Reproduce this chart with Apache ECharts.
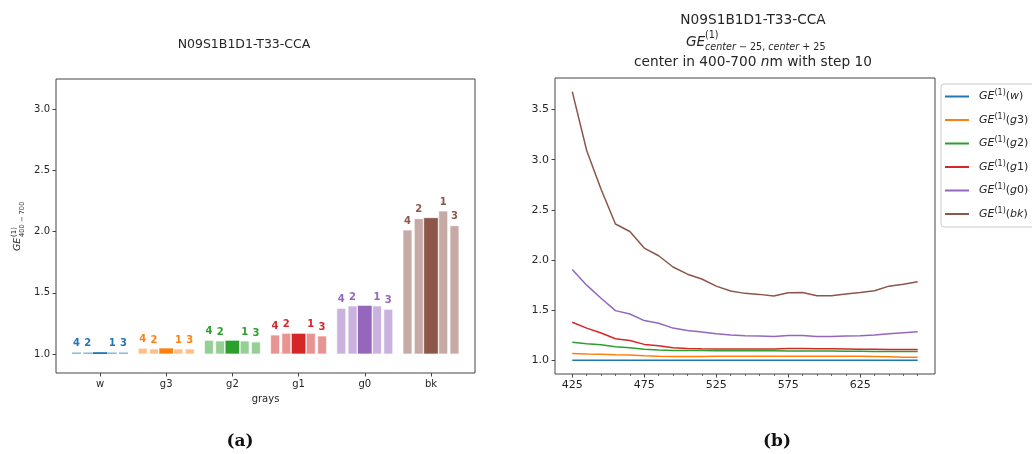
<!DOCTYPE html>
<html>
<head>
<meta charset="utf-8">
<script src="https://cdn.jsdelivr.net/npm/echarts@6/dist/echarts.min.js"></script>
<style>
html,body{margin:0;padding:0;background:#fff;}
#chart{width:1032px;height:454px;}
</style>
</head>
<body>
<div id="chart"></div>
<script>
// ---------- data ----------
const grays = ['w', 'g3', 'g2', 'g1', 'g0', 'bk'];
const subLabels = ['4', '2', '', '1', '3'];   // order of the five bars in each group
// bar heights per gray (order: 4, 2, main, 1, 3)
const bar_w  = [1.013, 1.013, 1.015, 1.013, 1.013];
const bar_g3 = [1.047, 1.041, 1.049, 1.041, 1.041];
const bar_g2 = [1.112, 1.106, 1.112, 1.106, 1.098];
const bar_g1 = [1.155, 1.169, 1.169, 1.169, 1.147];
const bar_g0 = [1.373, 1.392, 1.397, 1.392, 1.365];
const bar_bk = [2.012, 2.105, 2.113, 2.167, 2.047];
const barValues = [bar_w, bar_g3, bar_g2, bar_g1, bar_g0, bar_bk];

const centers = [425, 435, 445, 455, 465, 475, 485, 495, 505, 515, 525, 535, 545, 555, 565, 575, 585, 595, 605, 615, 625, 635, 645, 655, 665];
const ge_w  = [1.003, 1.003, 1.003, 1.003, 1.003, 1.003, 1.003, 1.003, 1.003, 1.003, 1.003, 1.003, 1.003, 1.003, 1.003, 1.003, 1.003, 1.003, 1.003, 1.003, 1.003, 1.003, 1.003, 1.003, 1.003];
const ge_g3 = [1.069, 1.064, 1.063, 1.058, 1.054, 1.047, 1.043, 1.040, 1.040, 1.041, 1.043, 1.043, 1.043, 1.044, 1.044, 1.044, 1.044, 1.044, 1.044, 1.043, 1.042, 1.040, 1.037, 1.034, 1.033];
const ge_g2 = [1.181, 1.168, 1.158, 1.138, 1.128, 1.112, 1.105, 1.099, 1.099, 1.099, 1.098, 1.098, 1.097, 1.097, 1.097, 1.096, 1.096, 1.095, 1.094, 1.093, 1.092, 1.091, 1.090, 1.089, 1.089];
const ge_g1 = [1.382, 1.323, 1.274, 1.217, 1.200, 1.161, 1.148, 1.128, 1.119, 1.117, 1.116, 1.115, 1.115, 1.115, 1.116, 1.120, 1.121, 1.118, 1.117, 1.115, 1.113, 1.112, 1.110, 1.109, 1.109];
const ge_g0 = [1.906, 1.751, 1.620, 1.497, 1.464, 1.398, 1.372, 1.323, 1.300, 1.284, 1.267, 1.254, 1.247, 1.244, 1.240, 1.250, 1.250, 1.240, 1.240, 1.244, 1.247, 1.254, 1.267, 1.277, 1.287];
const ge_bk = [3.678, 3.092, 2.706, 2.360, 2.285, 2.120, 2.044, 1.932, 1.860, 1.812, 1.741, 1.692, 1.669, 1.659, 1.642, 1.675, 1.678, 1.645, 1.645, 1.662, 1.678, 1.695, 1.741, 1.761, 1.784];
const lineValues = [ge_w, ge_g3, ge_g2, ge_g1, ge_g0, ge_bk];

const leftYTicks = [1.0, 1.5, 2.0, 2.5, 3.0];
const rightYTicks = [1.0, 1.5, 2.0, 2.5, 3.0, 3.5];
const rightXTicks = [425, 475, 525, 575, 625];
const rightXMinor = [435, 445, 455, 465, 485, 495, 505, 515, 535, 545, 555, 565, 585, 595, 605, 615, 635, 645, 655, 665];

// ---------- style / layout ----------
const colors = ['#1f77b4', '#ff7f0e', '#2ca02c', '#d62728', '#9467bd', '#8c564b'];
const FONT = 'DejaVu Sans';
const TXT = '#262626';
const AX = '#444';
const subOffsets = [-0.355, -0.185, 0, 0.185, 0.355];
const subWidths = [0.135, 0.135, 0.22, 0.135, 0.135];

function rgba(hex, a) {
  const n = parseInt(hex.slice(1), 16);
  return 'rgba(' + (n >> 16 & 255) + ',' + (n >> 8 & 255) + ',' + (n & 255) + ',' + a + ')';
}

const barData = [];
barValues.forEach((vals, gi) => {
  vals.forEach((v, si) => {
    barData.push([gi + subOffsets[si], v, gi, si]);
  });
});

function geLegend(name) {
  const m = name.match(/^([a-z]+)(\d*)$/);
  return '{p|}{i|GE}{s|(1)}{n|(}{i|' + m[1] + '}' + (m[2] ? '{n|' + m[2] + '}' : '') + '{n|)}';
}

const chart = echarts.init(document.getElementById('chart'), null, {renderer: 'canvas'});

const option = {
  animation: false,
  backgroundColor: '#fff',
  textStyle: {fontFamily: FONT},
  grid: [
    {left: 56, top: 79, width: 419, height: 294, show: true, borderColor: AX, borderWidth: 1, backgroundColor: 'transparent'},
    {left: 555, top: 78, width: 380, height: 296, show: true, borderColor: AX, borderWidth: 1, backgroundColor: 'transparent'}
  ],
  xAxis: [
    {
      type: 'value', gridIndex: 0, min: -0.665, max: 5.665, position: 'bottom',
      name: 'grays', nameLocation: 'middle', nameGap: 21,
      nameTextStyle: {fontSize: 10, color: TXT, fontFamily: FONT},
      axisLine: {show: false, onZero: false}, splitLine: {show: false},
      axisTick: {show: true, inside: false, length: 3.5, lineStyle: {color: AX}, customValues: [0, 1, 2, 3, 4, 5]},
      axisLabel: {fontSize: 10, color: TXT, margin: 6, customValues: [0, 1, 2, 3, 4, 5], formatter: v => grays[Math.round(v)]}
    },
    {
      type: 'value', gridIndex: 1, min: 413, max: 677, position: 'bottom',
      axisLine: {show: false, onZero: false}, splitLine: {show: false},
      axisTick: {show: true, inside: false, length: 3.5, lineStyle: {color: AX}, customValues: rightXTicks},
      axisLabel: {fontSize: 11, color: TXT, margin: 6, customValues: rightXTicks}
    },
    {
      type: 'value', gridIndex: 1, min: 413, max: 677, position: 'bottom',
      axisLine: {show: false, onZero: false}, splitLine: {show: false},
      axisTick: {show: true, inside: false, length: 2, lineStyle: {color: AX, width: 0.8}, customValues: rightXMinor},
      axisLabel: {show: false}
    }
  ],
  yAxis: [
    {
      type: 'value', gridIndex: 0, min: 0.845, max: 3.245, position: 'left',
      axisLine: {show: false, onZero: false}, splitLine: {show: false},
      axisTick: {show: true, inside: false, length: 3.5, lineStyle: {color: AX}, customValues: leftYTicks},
      axisLabel: {fontSize: 10, color: TXT, margin: 6, customValues: leftYTicks, formatter: v => v.toFixed(1)}
    },
    {
      type: 'value', gridIndex: 1, min: 0.866, max: 3.814, position: 'left',
      axisLine: {show: false, onZero: false}, splitLine: {show: false},
      axisTick: {show: true, inside: false, length: 3.5, lineStyle: {color: AX}, customValues: rightYTicks},
      axisLabel: {fontSize: 11, color: TXT, margin: 6, customValues: rightYTicks, formatter: v => v.toFixed(1)}
    }
  ],
  legend: {
    data: grays,
    orient: 'vertical',
    left: 941, top: 84,
    padding: [5, 10, 6, 4],
    itemGap: 9,
    itemWidth: 24, itemHeight: 2,
    icon: 'rect',
    borderColor: '#cccccc', borderWidth: 1, borderRadius: 3,
    backgroundColor: '#fff',
    formatter: geLegend,
    textStyle: {
      fontSize: 11, color: TXT, fontFamily: FONT, lineHeight: 14,
      rich: {
        p: {width: 5},
        i: {fontSize: 11, fontStyle: 'italic', color: TXT, fontFamily: FONT},
        n: {fontSize: 11, color: TXT, fontFamily: FONT},
        s: {fontSize: 8, color: TXT, fontFamily: FONT, padding: [0, 0, 7, 0]}
      }
    }
  },
  series: [
    {
      type: 'custom',
      name: 'bars',
      xAxisIndex: 0, yAxisIndex: 0,
      data: barData,
      renderItem: function (params, api) {
        const x = api.value(0), v = api.value(1), gi = api.value(2), si = api.value(3);
        const w = subWidths[si];
        const pTop = api.coord([x - w / 2, v]);
        const pBot = api.coord([x + w / 2, 1.0]);
        const col = colors[gi];
        const main = si === 2;
        const h = pBot[1] - pTop[1];
        const children = [{
          type: 'rect',
          shape: {x: pTop[0], y: pTop[1], width: pBot[0] - pTop[0], height: h},
          style: h > 4
            ? {fill: main ? col : rgba(col, 0.5), stroke: 'rgba(255,255,255,0.85)', lineWidth: 0.8}
            : {fill: main ? col : rgba(col, 0.5)}
        }];
        if (!main) {
          const c = api.coord([x, v]);
          children.push({
            type: 'text',
            style: {
              text: subLabels[si], x: c[0], y: c[1] - 4,
              textAlign: 'center', textVerticalAlign: 'bottom',
              font: 'bold 10px "DejaVu Sans"', fill: col
            }
          });
        }
        return {type: 'group', children: children};
      }
    }
  ].concat(grays.map((g, k) => ({
    type: 'line',
    name: g,
    xAxisIndex: 1, yAxisIndex: 1,
    data: centers.map((c, i) => [c, lineValues[k][i]]),
    showSymbol: false,
    symbol: 'none',
    color: colors[k],
    lineStyle: {width: 1.5, color: colors[k]}
  }))),
  graphic: [
    {type: 'text', style: {text: 'N09S1B1D1-T33-CCA', x: 244, y: 45, textAlign: 'center', textVerticalAlign: 'middle', font: '12.5px "DejaVu Sans"', fill: TXT}},
    {
      type: 'group', x: 18, y: 251, rotation: Math.PI / 2,
      children: [
        {type: 'text', style: {text: 'GE', x: 0, y: 0, textAlign: 'left', textVerticalAlign: 'middle', font: 'italic 9.5px "DejaVu Sans"', fill: TXT}},
        {type: 'text', style: {text: '(1)', x: 14, y: -3.5, textAlign: 'left', textVerticalAlign: 'middle', font: '7px "DejaVu Sans"', fill: TXT}},
        {type: 'text', style: {text: '400 − 700', x: 14, y: 4, textAlign: 'left', textVerticalAlign: 'middle', font: '6.7px "DejaVu Sans"', fill: TXT}}
      ]
    },
    {type: 'text', style: {text: 'N09S1B1D1-T33-CCA', x: 753, y: 20, textAlign: 'center', textVerticalAlign: 'middle', font: '13.7px "DejaVu Sans"', fill: TXT}},
    {type: 'text', style: {text: 'GE', x: 686, y: 42, textAlign: 'left', textVerticalAlign: 'middle', font: 'italic 13.7px "DejaVu Sans"', fill: TXT}},
    {type: 'text', style: {text: '(1)', x: 705, y: 35, textAlign: 'left', textVerticalAlign: 'middle', font: '9.6px "DejaVu Sans"', fill: TXT}},
    {type: 'text', style: {
      text: '{i|center}{n| − 25, }{i|center}{n| + 25}', x: 705, y: 47, textAlign: 'left', textVerticalAlign: 'middle',
      font: '9.6px "DejaVu Sans"', fill: TXT,
      rich: {i: {fontStyle: 'italic', fontSize: 9.6, fontFamily: FONT, fill: TXT, color: TXT}, n: {fontSize: 9.6, fontFamily: FONT, fill: TXT, color: TXT}}
    }},
    {type: 'text', style: {
      text: '{n|center in 400-700 }{i|n}{n|m with step 10}', x: 753, y: 62, textAlign: 'center', textVerticalAlign: 'middle',
      font: '13.7px "DejaVu Sans"', fill: TXT,
      rich: {i: {fontStyle: 'italic', fontSize: 13.7, fontFamily: FONT, color: TXT}, n: {fontSize: 13.7, fontFamily: FONT, color: TXT}}
    }},
    {type: 'text', style: {text: '(a)', x: 240, y: 442, textAlign: 'center', textVerticalAlign: 'middle', font: 'bold 17px "DejaVu Serif"', fill: '#111'}},
    {type: 'text', style: {text: '(b)', x: 777, y: 442, textAlign: 'center', textVerticalAlign: 'middle', font: 'bold 17px "DejaVu Serif"', fill: '#111'}}
  ]
};

chart.setOption(option);
</script>
</body>
</html>
